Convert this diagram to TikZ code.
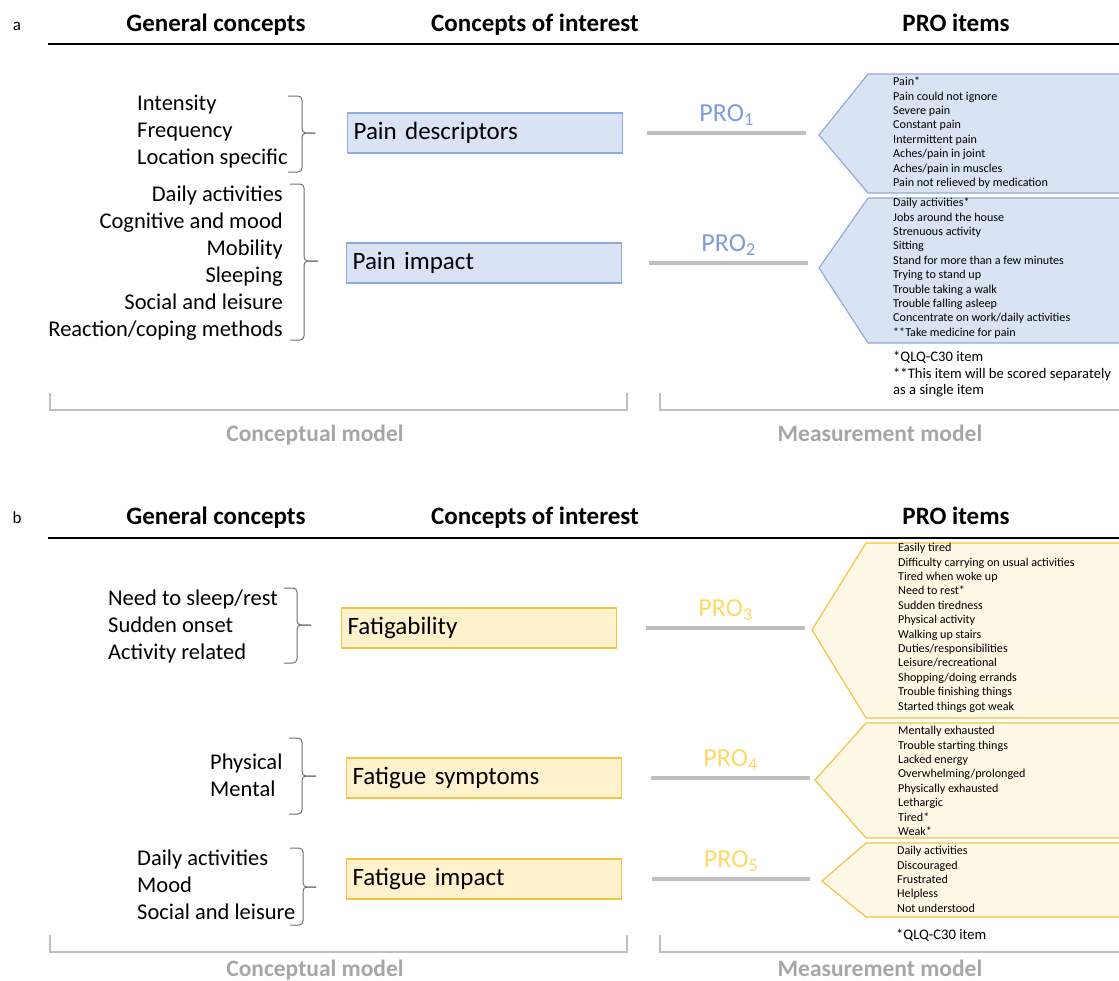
\documentclass[tikz,border=0pt]{standalone}
\usepackage{fontspec}
\setmainfont{Carlito}
\usepackage{xcolor}
\definecolor{painfill}{HTML}{DAE3F3}
\definecolor{painedge}{HTML}{8FAADC}
\definecolor{problue}{HTML}{7C9CDB}
\definecolor{fatfill}{HTML}{FFF2CC}
\definecolor{fatpale}{HTML}{FFF8E6}
\definecolor{fatedge}{HTML}{F5C342}
\definecolor{proyellow}{HTML}{FFD966}
\definecolor{linegray}{HTML}{BFBFBF}
\definecolor{modelgray}{HTML}{A6A6A6}
\definecolor{bracegray}{HTML}{6F6F6F}

\begin{document}
\begin{tikzpicture}[x=1pt, y=-1pt,
  head/.style={font=\fontsize{25}{30}\selectfont\bfseries, anchor=base},
  gen/.style={font=\fontsize{22.5}{27}\selectfont, inner sep=0pt},
  coi/.style={draw, line width=1.2pt, minimum height=40pt, text width=263pt, inner xsep=6pt, font=\fontsize{25}{30}\selectfont, align=left, anchor=west},
  items/.style={font=\fontsize{12.1}{14.4}\selectfont, align=left, anchor=north west, inner sep=0pt},
  brk/.style={bracegray, line width=1pt, rounded corners=4pt},
  proline/.style={linegray, line width=4pt},
  prolab/.style={font=\fontsize{26}{30}\selectfont, above=2pt},
  note/.style={font=\fontsize{14.6}{16.5}\selectfont, align=left, anchor=north west, inner sep=0pt},
  modelbrk/.style={linegray, line width=2pt},
  modellab/.style={font=\fontsize{23.5}{28}\selectfont\bfseries, text=modelgray, anchor=base}]
\useasboundingbox (0,0) rectangle (1119,980);
\clip (0,0) rectangle (1119,980);

% panel a
\node[font=\fontsize{17}{20}\selectfont, anchor=base] (pa) at (17,30) {a};
\node[head] (hga) at (216,31) {General concepts};
\node[head] (hca) at (535,31) {Concepts of interest};
\node[head] (hpa) at (956,31) {PRO items};
\draw[line width=1.6pt] (48,44) -- (1125,44);

\node[gen, align=left, anchor=west] (gc1) at (137,132) {Intensity\\Frequency\\Location specific};
\node[gen, align=right, anchor=east] (gc2) at (283,263) {Daily activities\\Cognitive and mood\\Mobility\\Sleeping\\Social and leisure\\Reaction/coping methods};
\draw[brk] (288,96) -| (302,133) -- (315,133);
\draw[brk] (315,133) -- (302,133) |- (288,172);
\draw[brk] (290,184) -| (304,261) -- (318,261);
\draw[brk] (318,261) -- (304,261) |- (290,340);

\node[coi, draw=painedge, fill=painfill] (pd) at (347,133) {Pain descriptors};
\node[coi, draw=painedge, fill=painfill] (pim) at (346,263) {Pain impact};

\coordinate (t1) at (819,135);
\coordinate (t2) at (819,268);
\draw[fill=painfill, draw=painedge, line width=1.2pt] (t1) -- (868,74) -- (1125,74) -- (1125,193) -- (868,193) -- cycle;
\draw[fill=painfill, draw=painedge, line width=1.2pt] (t2) -- (868,198) -- (1125,198) -- (1125,343) -- (868,343) -- cycle;
\draw[proline] ([xshift=24pt]pd.east) -- ([xshift=-13pt]pd.east -| t1) node[midway, prolab, text=problue] (pro1) {PRO\textsubscript{1}};
\draw[proline] ([xshift=27pt]pim.east) -- ([xshift=-11pt]pim.east -| t2) node[midway, prolab, text=problue] (pro2) {PRO\textsubscript{2}};

\node[items] (it1) at (893,77) {Pain*\\Pain could not ignore\\Severe pain\\Constant pain\\Intermittent pain\\Aches/pain in joint\\Aches/pain in muscles\\Pain not relieved by medication};
\node[items] (it2) at (893,198) {Daily activities*\\Jobs around the house\\Strenuous activity\\Sitting\\Stand for more than a few minutes\\Trying to stand up\\Trouble taking a walk\\Trouble falling asleep\\Concentrate on work/daily activities\\**Take medicine for pain};
\node[note] (fna) at (893,351) {*QLQ-C30 item\\**This item will be scored separately\\as a single item};

\draw[modelbrk] (50,393) -- (50,410) -- (627,410) -- (627,393);
\draw[modelbrk] (660,393) -- (660,410) -- (1125,410);
\node[modellab] (cma) at (315,441) {Conceptual model};
\node[modellab] (mma) at (880,441) {Measurement model};

% panel b
\node[font=\fontsize{17}{20}\selectfont, anchor=base] (pb) at (17,523) {b};
\node[head] (hgb) at (216,524) {General concepts};
\node[head] (hcb) at (535,524) {Concepts of interest};
\node[head] (hpb) at (956,524) {PRO items};
\draw[line width=1.6pt] (48,538) -- (1125,538);

\node[gen, align=left, anchor=west] (gc3) at (108,626) {Need to sleep/rest\\Sudden onset\\Activity related};
\node[gen, align=left, anchor=west] (gc4) at (210,775) {Physical\\Mental};
\node[gen, align=left, anchor=west] (gc5) at (137,885) {Daily activities\\Mood\\Social and leisure};
\draw[brk] (284,588) -| (297,625) -- (311,625);
\draw[brk] (311,625) -- (297,625) |- (284,663);
\draw[brk] (289,738) -| (302,776) -- (316,776);
\draw[brk] (316,776) -- (302,776) |- (289,814);
\draw[brk] (290,848) -| (303,887) -- (316,887);
\draw[brk] (316,887) -- (303,887) |- (290,925);

\node[coi, draw=fatedge, fill=fatfill] (fat) at (341,628) {Fatigability};
\node[coi, draw=fatedge, fill=fatfill] (fs) at (346,778) {Fatigue symptoms};
\node[coi, draw=fatedge, fill=fatfill] (fi) at (346,879) {Fatigue impact};

\coordinate (t3) at (812,630);
\coordinate (t4) at (815,780);
\coordinate (t5) at (822,881);
\draw[fill=fatpale, draw=fatedge, line width=1.2pt] (t3) -- (866,543) -- (1125,543) -- (1125,718) -- (866,718) -- cycle;
\draw[fill=fatpale, draw=fatedge, line width=1.2pt] (t4) -- (866,723) -- (1125,723) -- (1125,838) -- (866,838) -- cycle;
\draw[fill=fatpale, draw=fatedge, line width=1.2pt] (t5) -- (866,843) -- (1125,843) -- (1125,917) -- (866,917) -- cycle;
\draw[proline] ([xshift=29pt]fat.east) -- ([xshift=-7pt]fat.east -| t3) node[midway, prolab, text=proyellow] (pro3) {PRO\textsubscript{3}};
\draw[proline] ([xshift=29pt]fs.east) -- ([xshift=-5pt]fs.east -| t4) node[midway, prolab, text=proyellow] (pro4) {PRO\textsubscript{4}};
\draw[proline] ([xshift=30pt]fi.east) -- ([xshift=-12pt]fi.east -| t5) node[midway, prolab, text=proyellow] (pro5) {PRO\textsubscript{5}};

\node[items] (it3) at (898,543) {Easily tired\\Difficulty carrying on usual activities\\Tired when woke up\\Need to rest*\\Sudden tiredness\\Physical activity\\Walking up stairs\\Duties/responsibilities\\Leisure/recreational\\Shopping/doing errands\\Trouble finishing things\\Started things got weak};
\node[items] (it4) at (898,726) {Mentally exhausted\\Trouble starting things\\Lacked energy\\Overwhelming/prolonged\\Physically exhausted\\Lethargic\\Tired*\\Weak*};
\node[items] (it5) at (897,846) {Daily activities\\Discouraged\\Frustrated\\Helpless\\Not understood};
\node[note] (fnb) at (896,929) {*QLQ-C30 item};

\draw[modelbrk] (50,935) -- (50,952) -- (627,952) -- (627,935);
\draw[modelbrk] (660,935) -- (660,952) -- (1125,952);
\node[modellab] (cmb) at (315,976) {Conceptual model};
\node[modellab] (mmb) at (880,976) {Measurement model};
\end{tikzpicture}
\end{document}
